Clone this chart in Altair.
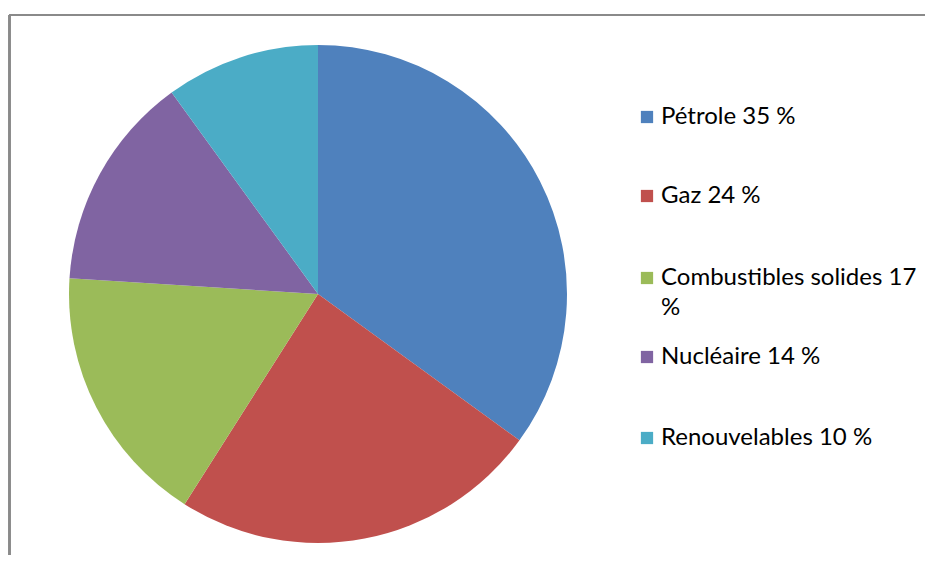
import altair as alt
import pandas as pd

categories = ["Pétrole", "Gaz", "Combustibles solides", "Nucléaire", "Renouvelables"]
values = [35, 24, 17, 14, 10]
colors = ["#4F81BD", "#C0504D", "#9BBB59", "#8064A2", "#4BACC6"]
legend_text = ["Pétrole 35 %", "Gaz 24 %", "Combustibles solides 17\n%", "Nucléaire 14 %", "Renouvelables 10 %"]

# layout (pixels inside the chart)
W, H = 917, 547
legend_y = [109, 188, 270, 349, 430]

df = pd.DataFrame({
    "cat": categories,
    "val": values,
    "ord": list(range(len(categories))),
    "label": legend_text,
    "ly": legend_y,
})

color = alt.Color("cat:N", scale=alt.Scale(domain=categories, range=colors), legend=None)

pie = alt.Chart(df).mark_arc(outerRadius=249).encode(
    theta=alt.Theta("val:Q", stack=True),
    order=alt.Order("ord:Q"),
    color=color,
    x=alt.value(310),
    y=alt.value(286),
)

sq = alt.Chart(df).mark_square(size=150, opacity=1).encode(
    x=alt.value(639),
    y=alt.Y("ly:Q", scale=None),
    color=color,
)

txt = alt.Chart(df).mark_text(
    align="left", baseline="middle", font="Lato", fontSize=24,
    lineBreak="\n", lineHeight=30, color="#000000",
).encode(
    x=alt.value(653),
    y=alt.Y("ly:Q", scale=None),
    text="label:N",
)

frame_top = alt.Chart(df).mark_rule(color="#8a8a8a", strokeWidth=2).encode(
    x=alt.value(1.5), x2=alt.value(W), y=alt.value(7)
)
frame_left = alt.Chart(df).mark_rule(color="#8a8a8a", strokeWidth=2).encode(
    x=alt.value(1.5), y=alt.value(7), y2=alt.value(H)
)

chart = alt.layer(pie, sq, txt, frame_top, frame_left).properties(
    width=W, height=H, autosize=alt.AutoSizeParams(type="none"), padding=0
).configure_view(stroke=None)

chart.save("out.html", embed_options={"renderer": "svg", "actions": False})
